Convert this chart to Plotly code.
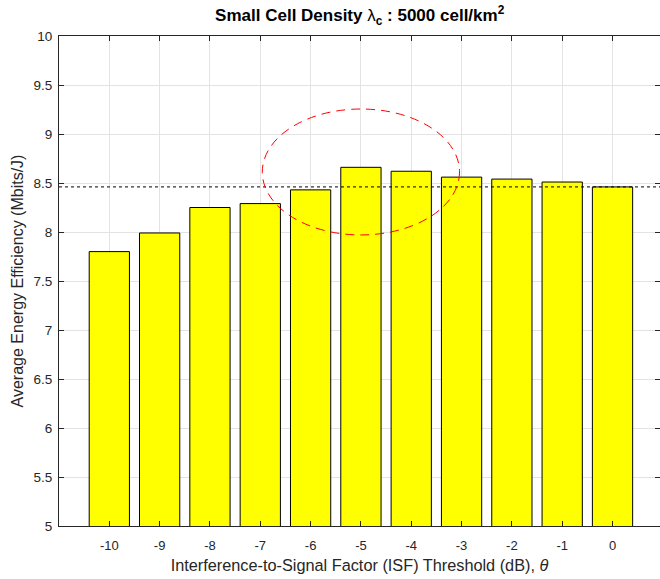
import plotly.graph_objects as go

thresholds = [-10, -9, -8, -7, -6, -5, -4, -3, -2, -1, 0]
efficiency = [7.80, 7.99, 8.25, 8.29, 8.43, 8.66, 8.62, 8.56, 8.54, 8.51, 8.46]
reference_level = 8.46
x_tick_labels = ["-10", "-9", "-8", "-7", "-6", "-5", "-4", "-3", "-2", "-1", "0"]
y_tick_vals = [5, 5.5, 6, 6.5, 7, 7.5, 8, 8.5, 9, 9.5, 10]
y_tick_labels = ["5", "5.5", "6", "6.5", "7", "7.5", "8", "8.5", "9", "9.5", "10"]
ellipse_x = [-6.96, -3.04]
ellipse_y = [7.97, 9.255]

FONT = "Liberation Sans, Arial, Helvetica, sans-serif"
AXC = "#262626"

fig = go.Figure()
fig.add_trace(go.Bar(
    x=thresholds, y=efficiency, width=0.8,
    marker=dict(color="#ffff00", line=dict(color="black", width=1)),
    showlegend=False,
))

fig.add_shape(type="line", xref="paper", yref="y", x0=0, x1=1,
              y0=reference_level, y1=reference_level,
              line=dict(color="black", width=1, dash="dot"))
fig.add_shape(type="circle", xref="x", yref="y",
              x0=ellipse_x[0], x1=ellipse_x[1], y0=ellipse_y[0], y1=ellipse_y[1],
              line=dict(color="#ff0000", width=1, dash="9px,6px"))

fig.update_layout(
    width=660, height=579,
    margin=dict(l=59, r=0, t=36, b=53),
    paper_bgcolor="white", plot_bgcolor="white",
    font=dict(family=FONT, color=AXC, size=13),
    bargap=0.2,
    title=dict(
        text="<b>Small Cell Density </b>λ<sub><b>c</b></sub><b> : 5000 cell/km<sup>2</sup></b>",
        x=0.545, xanchor="center", y=1 - 15 / 579, yanchor="middle", yref="container",
        font=dict(family=FONT, size=17, color="black"),
    ),
    xaxis=dict(
        range=[-11, -11 + 601 / 50.32],
        tickvals=thresholds, ticktext=x_tick_labels,
        ticks="inside", ticklen=5, tickcolor=AXC,
        showgrid=True, gridcolor="#e3e3e3", gridwidth=1,
        showline=True, linecolor=AXC, linewidth=1, mirror="ticks",
        zeroline=False,
        ticklabelstandoff=7,
        tickfont=dict(size=13, color=AXC),
        title=dict(text="Interference-to-Signal Factor (ISF) Threshold (dB), <i>θ</i>",
                   font=dict(size=16.3, color=AXC), standoff=7),
    ),
    yaxis=dict(
        range=[5, 10],
        tickvals=y_tick_vals, ticktext=y_tick_labels,
        ticks="inside", ticklen=5, tickcolor=AXC,
        showgrid=True, gridcolor="#e3e3e3", gridwidth=1,
        showline=True, linecolor=AXC, linewidth=1, mirror="ticks",
        zeroline=False,
        ticklabelstandoff=3,
        tickfont=dict(size=13.5, color=AXC),
        title=dict(text="Average Energy Efficiency (Mbits/J)",
                   font=dict(size=16, color=AXC), standoff=5),
    ),
)

fig.write_html("out.html")
